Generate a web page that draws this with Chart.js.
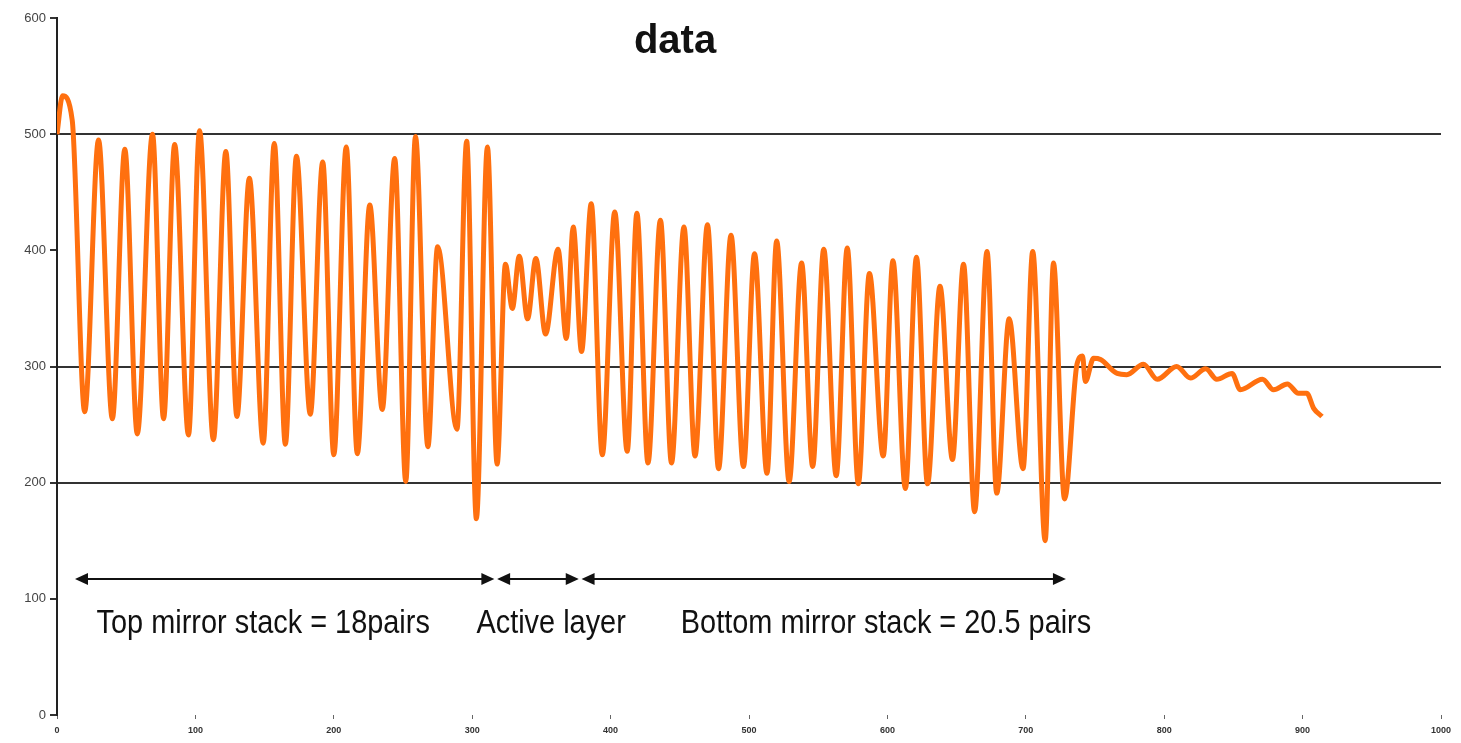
<!DOCTYPE html>
<html>
<head>
<meta charset="utf-8">
<script src="https://cdn.jsdelivr.net/npm/chart.js@4.4.0/dist/chart.umd.min.js"></script>
<style>
  html, body { margin:0; padding:0; background:#fff; }
  #wrap { width:1461px; height:743px; }
</style>
</head>
<body>
<div id="wrap"><canvas id="myChart"></canvas></div>
<script>
// position along the sample (x) and the trace value (y)
const xValues = [0, 4, 11, 20, 30, 40, 49, 58, 69, 77, 85, 95, 103, 113, 122, 130, 139, 149, 157, 165,
  173, 183, 192, 200, 209, 217, 226, 235, 244, 252, 259, 268, 275, 289, 296, 303, 311, 318,
  324, 329, 334, 340, 346, 353, 362, 368, 373, 379, 386, 394, 403, 412, 419, 427, 436, 444,
  453, 461, 470, 478, 487, 496, 504, 513, 520, 529, 538, 546, 554, 563, 571, 579, 587, 597,
  604, 613, 621, 629, 638, 647, 655, 663, 672, 679, 688, 698, 705, 714, 720, 728, 737, 741,
  743, 749, 754, 766, 773, 785, 795, 809, 819, 830, 838, 849, 855, 871, 879, 889, 897, 903,
  908, 914]
const yValues = [500, 533, 512, 261, 495, 255, 487, 242, 500, 255, 491, 241, 503, 237, 485, 257, 462, 234, 492, 233,
  481, 259, 476, 224, 489, 225, 439, 263, 479, 201, 498, 231, 403, 246, 494, 169, 489, 216,
  388, 350, 395, 341, 393, 328, 401, 324, 420, 313, 440, 224, 433, 227, 432, 217, 426, 217,
  420, 223, 422, 212, 413, 214, 397, 208, 408, 201, 389, 214, 401, 206, 402, 199, 380, 223,
  391, 195, 394, 199, 369, 220, 388, 175, 399, 191, 341, 212, 399, 150, 389, 186, 302, 309,
  287, 307, 306, 294, 293, 302, 289, 300, 290, 298, 289, 294, 280, 289, 280, 285, 277, 277,
  264, 257]

const gridValues = [200, 300, 500]

const sectionStart = [13, 318, 379]
const sectionEnd = [316, 377, 729]
const sectionLabels = ['Top mirror stack = 18pairs', 'Active layer', 'Bottom mirror stack = 20.5 pairs']
const labelCenters = [149, 357, 599]
const arrowLevel = 117
const labelLevel = 79

const points = xValues.map((x, i) => ({x: x, y: yValues[i]}))

function arrowHead(ctx, x, y, dir){
  ctx.beginPath()
  ctx.moveTo(x, y)
  ctx.lineTo(x - dir*13, y - 6)
  ctx.lineTo(x - dir*13, y + 6)
  ctx.closePath()
  ctx.fill()
}

const sectionPlugin = {
  id: 'sections',
  afterDatasetsDraw(chart){
    const ctx = chart.ctx
    const xs = chart.scales.x
    const ys = chart.scales.y
    ctx.save()
    ctx.strokeStyle = '#111'
    ctx.fillStyle = '#111'
    ctx.lineWidth = 2
    const yA = ys.getPixelForValue(arrowLevel)
    for(let i = 0; i < sectionStart.length; i++){
      const x1 = xs.getPixelForValue(sectionStart[i])
      const x2 = xs.getPixelForValue(sectionEnd[i])
      ctx.beginPath()
      ctx.moveTo(x1 + 6, yA)
      ctx.lineTo(x2 - 6, yA)
      ctx.stroke()
      arrowHead(ctx, x1, yA, -1)
      arrowHead(ctx, x2, yA, 1)
    }
    // the labels are set in a narrow face, squeeze the regular one
    ctx.font = '34px "Liberation Sans", Arial, sans-serif'
    ctx.textAlign = 'center'
    ctx.textBaseline = 'middle'
    const yL = ys.getPixelForValue(labelLevel)
    for(let i = 0; i < sectionLabels.length; i++){
      ctx.save()
      ctx.translate(xs.getPixelForValue(labelCenters[i]), yL)
      ctx.scale(0.85, 1)
      ctx.fillText(sectionLabels[i], 0, 0)
      ctx.restore()
    }
    // title, only the second line is left in the picture
    ctx.font = 'bold 40px "Liberation Sans", Arial, sans-serif'
    ctx.textBaseline = 'alphabetic'
    ctx.fillText('data', 675, 53)
    ctx.restore()
  }
}

const ctx = document.getElementById('myChart')
new Chart(ctx, {
  type: 'line',
  data: {
    datasets: [{
      data: points,
      borderColor: '#ff700f',
      borderWidth: 5,
      pointRadius: 0,
      cubicInterpolationMode: 'monotone',
      fill: false
    }]
  },
  options: {
    responsive: true,
    maintainAspectRatio: false,
    animation: false,
    layout: { padding: { top: 18, right: 20, left: 0, bottom: 0 } },
    plugins: {
      legend: { display: false },
      tooltip: { enabled: false }
    },
    scales: {
      x: {
        type: 'linear',
        min: 0,
        max: 1000,
        ticks: { stepSize: 100, color: '#333', font: { size: 9, weight: 'bold' }, maxRotation: 0, padding: 6,
          callback: (v) => String(v) },
        grid: { drawOnChartArea: false, tickLength: 4, tickColor: '#666', lineWidth: 1 },
        border: { display: false },
        afterFit: (s) => { s.height = 28 }
      },
      y: {
        min: 0,
        max: 600,
        ticks: { stepSize: 100, color: '#444', font: { size: 13 }, padding: 4 },
        grid: {
          color: (c) => gridValues.includes(c.tick.value) ? '#333' : 'rgba(0,0,0,0)',
          lineWidth: 2,
          tickLength: 7,
          tickColor: '#333'
        },
        border: { display: true, color: '#222', width: 2 },
        afterFit: (s) => { s.width = 57 }
      }
    }
  },
  plugins: [sectionPlugin]
})
</script>
</body>
</html>
